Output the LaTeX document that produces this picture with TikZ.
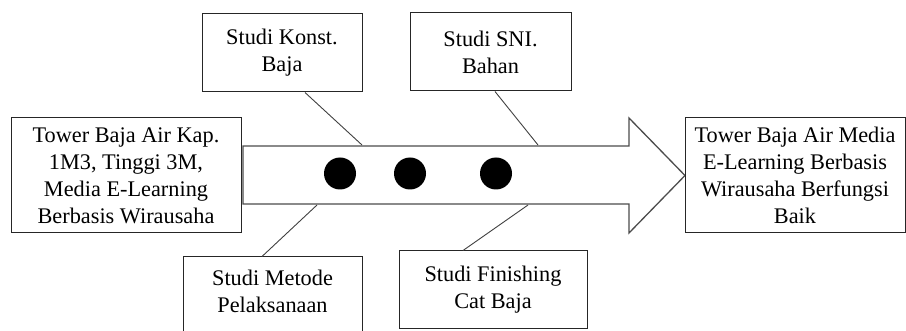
\documentclass[tikz,border=0pt]{standalone}
\usepackage{fontspec}
\setmainfont{Liberation Serif}
\begin{document}
\begin{tikzpicture}[x=1pt,y=-1pt,
  box/.style={draw=black!85,line width=1pt,fill=white,align=center,inner sep=0pt,
    font=\fontsize{22.3}{27}\selectfont},
  link/.style={draw=black!75,line width=0.9pt},
  dot/.style={circle,fill=black,minimum size=32pt,inner sep=0pt}]
\useasboundingbox (0,0) rectangle (906,331);
% big arrow
\draw[draw=black!70,line width=1.3pt,fill=white]
  (243,146) -- (629,146) -- (629,118) -- (685,175.5) -- (629,233) -- (629,204) -- (243,204) -- cycle;
\coordinate (a1) at (362,145);
\coordinate (a2) at (538,145);
\coordinate (a3) at (317,205);
\coordinate (a4) at (528,205);
\node[dot] (d1) at (340,173.5) {};
\node[dot] (d2) at (410,173.5) {};
\node[dot] (d3) at (496,173.5) {};
% boxes
\node[box,minimum width=230pt,minimum height=115pt] (L) at (126,175.5)
  {Tower Baja Air Kap.\\1M3, Tinggi 3M,\\Media E-Learning\\Berbasis Wirausaha};
\node[box,minimum width=220pt,minimum height=115pt] (R) at (795,175.5)
  {Tower Baja Air Media\\E-Learning Berbasis\\Wirausaha Berfungsi\\Baik};
\node[box,minimum width=160pt,minimum height=78pt] (b1) at (282,53)
  {Studi Konst.\\Baja};
\node[box,minimum width=161pt,minimum height=78pt] (b2) at (490.5,52)
  {Studi SNI.\\Bahan};
\node[box,minimum width=179pt,minimum height=90pt,text depth=0pt] (b3) at (272.5,302)
  {};
\node[font=\fontsize{22.3}{27}\selectfont,align=center] (t3) at (272.5,291.5) {Studi Metode\\Pelaksanaan};
\node[box,minimum width=188pt,minimum height=78pt] (b4) at (493,290)
  {Studi Finishing\\Cat Baja};
% connectors
\draw[link] ([xshift=23pt]b1.south) -- (a1);
\draw[link] ([xshift=4.5pt]b2.south) -- (a2);
\draw[link] ([xshift=-10.5pt]b3.north) -- (a3);
\draw[link] ([xshift=-30pt]b4.north) -- (a4);
\end{tikzpicture}
\end{document}
